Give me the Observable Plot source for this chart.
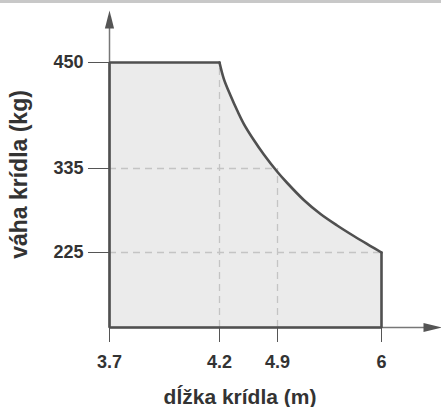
<!DOCTYPE html>
<html><head><meta charset="utf-8">
<script src="https://cdn.jsdelivr.net/npm/d3@7"></script>
<script src="https://cdn.jsdelivr.net/npm/@observablehq/plot@0.6"></script>
<style>
body{margin:0;background:#fff;}
#band{position:absolute;left:0;top:0;width:441px;height:3px;background:#c8c8c8;}
#chart svg, #chart svg text{font-family:"Liberation Sans", Arimo, Arial, "DejaVu Sans", sans-serif !important;font-variant:normal !important;}
</style></head><body>
<div id="band"></div>
<div id="chart"></div>
<script>
// tick values
const xTicks = [3.7, 4.2, 4.9, 6];
const yTicks = [225, 335, 450];
// axis extents
const xMin = 3.7, xMax = 6, xEnd = 6.5;
const yMin = 130, yEnd = 497;
// boundary curve
const curveX = [4.2, 4.252, 4.333, 4.414, 4.493, 4.614, 4.735, 4.9, 5.003, 5.178, 5.355, 5.531, 5.707, 5.884, 6];
const curveY = [450, 432.3, 414.2, 397.9, 383.5, 365.9, 350.2, 330.4, 316.0, 293.8, 275.4, 260.4, 246.6, 233.5, 225];
const xLabel = "dĺžka krídla (m)";
const yLabel = "váha krídla (kg)";

const curvePts = curveX.map((x, i) => ({x, y: curveY[i]}));
const edgePts = [{x: 4.2, y: 450}, {x: xMin, y: 450}, {x: xMin, y: yMin}, {x: xMax, y: yMin}, {x: xMax, y: 225}];
const poly = [{x: xMin, y: yMin}, {x: xMin, y: 450}]
  .concat(curvePts)
  .concat([{x: xMax, y: yMin}, {x: xMin, y: yMin}]);

const hGrid = [{y: 225, x2: 6}, {y: 335, x2: 4.9}];
const vGrid = [{x: 4.2, y2: 450}, {x: 4.9, y2: 335}];

const arrowSym = {draw(ctx) { ctx.moveTo(0, -9); ctx.lineTo(4.6, 9); ctx.lineTo(-4.6, 9); ctx.closePath(); }};
const fontStack = "Liberation Sans, Arimo, Arial, sans-serif";

const chart = Plot.plot({
  width: 441, height: 407,
  marginLeft: 109, marginBottom: 80, marginTop: 19, marginRight: 9,
  style: {fontFamily: fontStack, fontSize: "18px", fontWeight: "bold", color: "#555", background: "transparent"},
  x: {type: "linear", domain: [3.7, 4.2, 4.9, 6, xEnd], range: [109, 219, 277, 381, 432], ticks: xTicks, tickSize: 15, label: null, tickFormat: () => ""},
  y: {type: "linear", domain: [yMin, 225, 335, 450, yEnd], range: [327, 252, 168, 62, 19], ticks: yTicks, tickSize: 21, label: null, tickFormat: () => ""},
  marks: [
    Plot.line(poly, {x: "x", y: "y", fill: "#ebebeb", stroke: "none", curve: "linear"}),
    Plot.ruleY(hGrid, {y: "y", x1: xMin, x2: "x2", stroke: "#c4c4c4", strokeWidth: 1.3, strokeDasharray: "7,5"}),
    Plot.ruleX(vGrid, {x: "x", y1: yMin, y2: "y2", stroke: "#c4c4c4", strokeWidth: 1.3, strokeDasharray: "7,5"}),
    Plot.ruleX([xMin], {y1: yMin, y2: yEnd, stroke: "#777", strokeWidth: 1.5}),
    Plot.ruleY([yMin], {x1: xMin, x2: xEnd, stroke: "#777", strokeWidth: 1.5}),
    Plot.line(edgePts, {x: "x", y: "y", stroke: "#505050", strokeWidth: 2.6, strokeLinejoin: "miter"}),
    Plot.line(curvePts, {x: "x", y: "y", stroke: "#505050", strokeWidth: 2.6, curve: "catmull-rom", strokeLinecap: "round"}),
    Plot.dot([{x: xMin, y: yEnd}], {x: "x", y: "y", symbol: arrowSym, fill: "#555", stroke: "none"}),
    Plot.dot([{x: xEnd, y: yMin}], {x: "x", y: "y", symbol: arrowSym, fill: "#555", stroke: "none", rotate: 90}),
    Plot.text(yTicks, {y: d => d, frameAnchor: "left", dx: -26, textAnchor: "end", lineAnchor: "middle", text: d => String(d), fontSize: 18, fontWeight: "bold", fill: "#333"}),
    Plot.text(xTicks, {x: d => d, frameAnchor: "bottom", dy: 35, textAnchor: "middle", lineAnchor: "middle", text: d => String(d), fontSize: 18, fontWeight: "bold", fill: "#333"}),
    Plot.text([xLabel], {frameAnchor: "bottom", dx: -31, dy: 70, textAnchor: "middle", lineAnchor: "middle", fontSize: 21, fontWeight: "bold", fill: "#333", style: "letter-spacing:0.5px"}),
    Plot.text([yLabel], {frameAnchor: "left", dx: -90, dy: 1, rotate: -90, textAnchor: "middle", lineAnchor: "middle", fontSize: 23, fontWeight: "bold", fill: "#333"})
  ]
});
document.getElementById("chart").appendChild(chart);
</script>
</body></html>
